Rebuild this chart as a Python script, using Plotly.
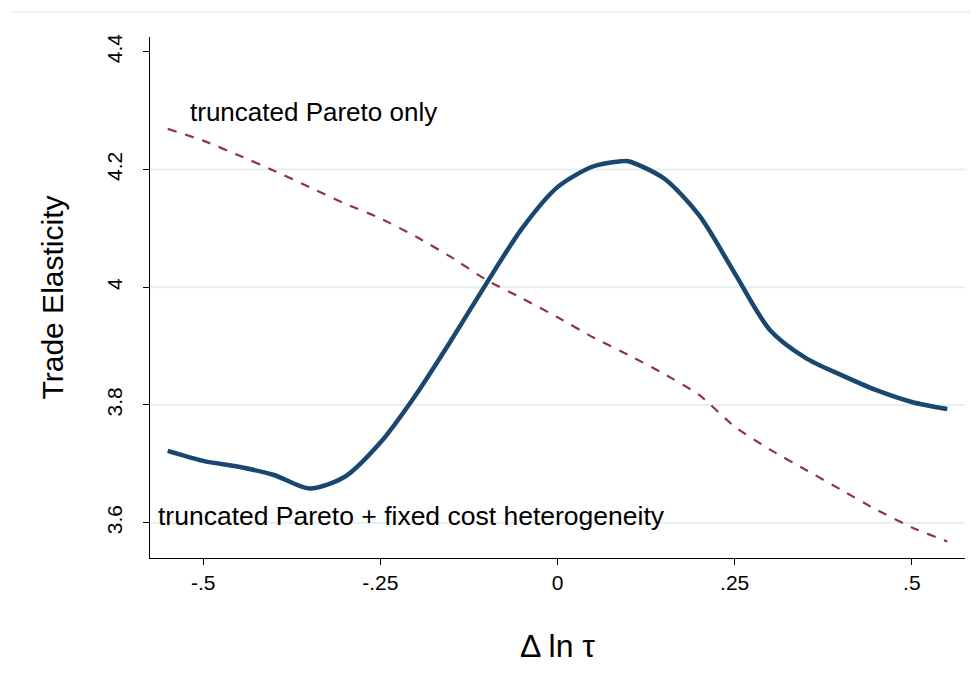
import plotly.graph_objects as go

x_vals = [-0.55, -0.5, -0.45, -0.4, -0.35, -0.3, -0.25, -0.2, -0.15, -0.1, -0.05,
          0.0, 0.05, 0.09, 0.1, 0.15, 0.2, 0.25, 0.3, 0.35, 0.4, 0.45, 0.5, 0.55]
fixed_cost = [3.722, 3.705, 3.695, 3.681, 3.658, 3.678, 3.736, 3.817, 3.910, 4.007, 4.100,
              4.170, 4.205, 4.214, 4.214, 4.185, 4.122, 4.024, 3.927, 3.880, 3.851, 3.825, 3.805, 3.793]
x_par = [-0.55, -0.5, -0.45, -0.4, -0.35, -0.3, -0.25, -0.2, -0.15, -0.1, -0.05,
         0.0, 0.05, 0.1, 0.15, 0.2, 0.25, 0.3, 0.35, 0.4, 0.45, 0.5, 0.55]
pareto_only = [4.269, 4.249, 4.224, 4.198, 4.170, 4.142, 4.117, 4.086, 4.051, 4.012, 3.981,
               3.949, 3.915, 3.885, 3.853, 3.817, 3.763, 3.724, 3.690, 3.656, 3.622, 3.592, 3.568]

x_ticks = [-0.5, -0.25, 0, 0.25, 0.5]
x_tick_labels = ["-.5", "-.25", "0", ".25", ".5"]
y_ticks = [3.6, 3.8, 4.0, 4.2, 4.4]
y_tick_labels = ["3.6", "3.8", "4", "4.2", "4.4"]
grid_vals = [3.6, 3.8, 4.0, 4.2]

FONT = "Liberation Sans, Arial, sans-serif"

fig = go.Figure()
fig.add_trace(go.Scatter(x=x_vals, y=fixed_cost, mode="lines",
                         line=dict(color="#1a476f", width=4.5, shape="spline", smoothing=0.8),
                         showlegend=False))
fig.add_trace(go.Scatter(x=x_par, y=pareto_only, mode="lines",
                         line=dict(color="#90353b", width=2.2, dash="dash", shape="spline", smoothing=0.5),
                         showlegend=False))

shapes = []
for g in grid_vals:
    shapes.append(dict(type="line", xref="paper", yref="y", x0=0, x1=1, y0=g, y1=g,
                       line=dict(color="#e6eff1", width=2), layer="below"))
shapes.append(dict(type="line", xref="paper", yref="paper", x0=-0.17, x1=1.01,
                   y0=1.048, y1=1.048, line=dict(color="#e6eef1", width=1.5)))
fig.update_layout(shapes=shapes)

fig.add_annotation(x=-0.521, y=4.297, xref="x", yref="y", text="truncated Pareto only",
                   showarrow=False, xanchor="left", yanchor="middle",
                   font=dict(family=FONT, size=26, color="black"))
fig.add_annotation(x=-0.566, y=3.612, xref="x", yref="y",
                   text="truncated Pareto + fixed cost heterogeneity",
                   showarrow=False, xanchor="left", yanchor="middle",
                   font=dict(family=FONT, size=26.5, color="black"))

fig.update_layout(
    width=962, height=670,
    margin=dict(l=142, r=5, t=29, b=120),
    paper_bgcolor="white", plot_bgcolor="white",
    font=dict(family=FONT, color="black"),
    xaxis=dict(range=[-0.575, 0.575], tickvals=x_ticks, ticktext=x_tick_labels,
               showgrid=False, zeroline=False, showline=True, linecolor="black", linewidth=1,
               ticks="outside", ticklen=6, tickcolor="black",
               tickfont=dict(size=21, family=FONT),
               title=dict(text="Δ ln τ", font=dict(size=32, family=FONT), standoff=41)),
    yaxis=dict(range=[3.54, 4.425], tickvals=y_ticks, ticktext=y_tick_labels,
               showgrid=False, zeroline=False, showline=True, linecolor="black", linewidth=1,
               ticks="outside", ticklen=6, tickcolor="black", tickangle=-90,
               ticklabelstandoff=13,
               tickfont=dict(size=21, family=FONT),
               title=dict(text="Trade Elasticity", font=dict(size=30, family=FONT), standoff=30)),
)

fig.write_html("out.html")
